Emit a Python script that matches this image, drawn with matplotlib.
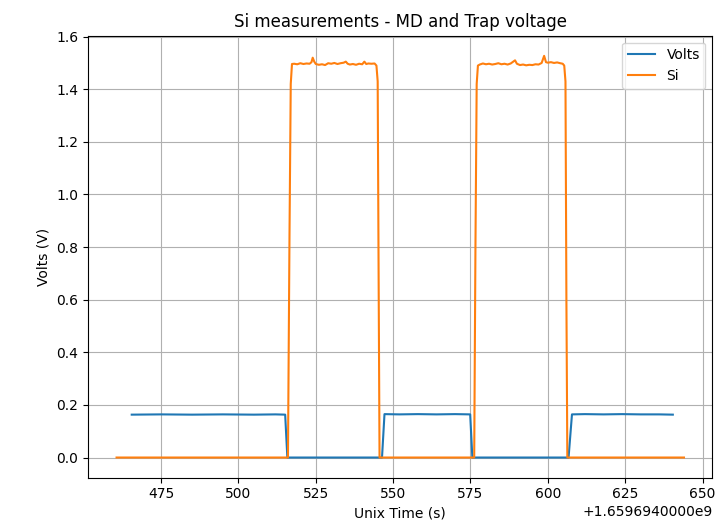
import numpy as np
import matplotlib
matplotlib.use("Agg")
import matplotlib.pyplot as plt
from matplotlib.ticker import FuncFormatter

T0 = 1659694000

# Volts trace (time offset from T0, value)
volts_t = [465.5, 475, 485, 495, 505, 512, 515.1, 515.8,
           525, 535, 546.4, 547.2, 552, 558, 564, 570, 574.9, 575.6,
           585, 595, 606.7, 607.8, 612, 618, 624, 630, 636, 640.4]
volts_v = [0.163, 0.164, 0.163, 0.164, 0.163, 0.164, 0.163, 0.0,
           0.0, 0.0, 0.0, 0.165, 0.164, 0.165, 0.164, 0.165, 0.164, 0.0,
           0.0, 0.0, 0.0, 0.164, 0.165, 0.164, 0.165, 0.164, 0.164, 0.163]

# Si trace
si_t = [460.6, 480, 500, 516.0, 516.5, 516.9, 517.3,
        518, 519, 520, 521, 522, 523, 523.6, 524.0, 524.5, 525, 526, 527, 528,
        529, 530, 531, 532, 533, 534, 534.7, 535.3, 536, 537, 538, 539, 540,
        540.7, 541.3, 542, 543, 544, 544.6, 545.0, 545.3, 545.6,
        555, 565, 576.2, 576.6, 577.0, 577.4,
        578, 579, 580, 581, 582, 583, 584, 585, 586, 587, 588, 589.4, 590,
        591, 592, 593, 594, 595, 596, 597, 598, 598.8, 599.4, 600, 601, 602,
        603, 604, 604.8, 605.3, 605.7, 606.0, 606.3,
        615, 630, 644.0]
si_v = [0.0, 0.0, 0.0, 0.0, 0.85, 1.42, 1.496,
        1.497, 1.495, 1.499, 1.496, 1.498, 1.497, 1.503, 1.520, 1.505, 1.496, 1.493, 1.495, 1.492,
        1.499, 1.497, 1.500, 1.496, 1.499, 1.501, 1.505, 1.497, 1.494, 1.496, 1.493, 1.497, 1.495,
        1.505, 1.496, 1.498, 1.497, 1.498, 1.490, 1.43, 0.7, 0.0,
        0.0, 0.0, 0.0, 0.8, 1.42, 1.490,
        1.494, 1.498, 1.495, 1.497, 1.494, 1.496, 1.499, 1.495, 1.497, 1.494, 1.498, 1.510, 1.497,
        1.492, 1.494, 1.491, 1.493, 1.492, 1.495, 1.494, 1.500, 1.527, 1.503, 1.501, 1.503, 1.500,
        1.502, 1.499, 1.497, 1.490, 1.43, 0.6, 0.0,
        0.0, 0.0, 0.0]

fig = plt.figure(figsize=(7.17, 5.26), dpi=100)
ax = fig.add_axes([0.123, 0.092, 0.8705, 0.840])

ax.plot(T0 + np.array(volts_t), volts_v, label="Volts")
ax.plot(T0 + np.array(si_t), si_v, label="Si")

fmt = FuncFormatter(lambda x, pos: "%g" % round(x - T0, 6))
fmt.set_offset_string("+1.6596940000e9")
ax.xaxis.set_major_formatter(fmt)

ax.set_title("Si measurements - MD and Trap voltage")
ax.set_xlabel("Unix Time (s)")
ax.set_ylabel("Volts (V)")
ax.grid(True)
ax.legend(loc="upper right")

fig.savefig("out.png", dpi=100)
